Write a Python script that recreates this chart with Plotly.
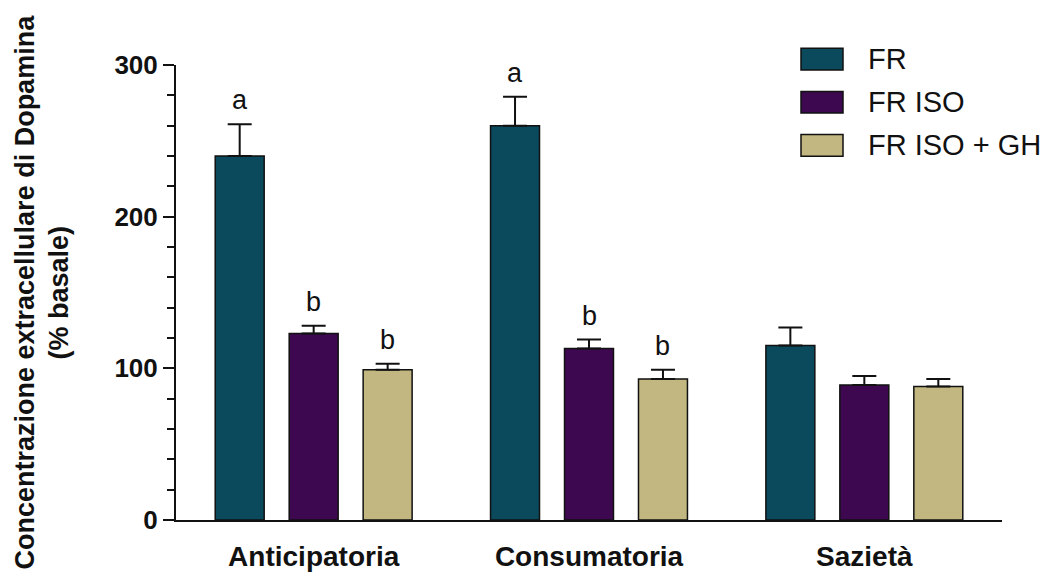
import plotly.graph_objects as go

# Data
categories = ["Anticipatoria", "Consumatoria", "Sazietà"]
series_names = ["FR", "FR ISO", "FR ISO + GH"]
fr_values = [240, 260, 115]
fr_errors = [21, 19, 12]
iso_values = [123, 113, 89]
iso_errors = [5, 6, 6]
gh_values = [99, 93, 88]
gh_errors = [4, 6, 5]
fr_letters = ["a", "a", ""]
iso_letters = ["b", "b", ""]
gh_letters = ["b", "b", ""]
y_ticks = [0, 100, 200, 300]

colors = ["#0b4a5c", "#3d0850", "#c2b781"]
FONT = "Arial, Liberation Sans, sans-serif"

values = [fr_values, iso_values, gh_values]
errors = [fr_errors, iso_errors, gh_errors]
letters = [fr_letters, iso_letters, gh_letters]

BARGAP = 0.194
BARGROUPGAP = 0.338

# Layout geometry (pixels)
W, H = 1057, 584
ML, MR, MT, MB = 176, 55, 65, 55
PW = W - ML - MR
PH = H - MT - MB

fig = go.Figure()
for name, vals, errs, col in zip(series_names, values, errors, colors):
    fig.add_trace(go.Bar(
        x=categories, y=vals, name=name,
        marker=dict(color=col, line=dict(color="#111111", width=1.5)),
        error_y=dict(type="data", array=errs, arrayminus=[0] * len(errs),
                     symmetric=False, color="#111111", thickness=2, width=12),
        showlegend=False,
    ))

# Significance letters above error bars
slot = (1 - BARGAP) / len(series_names)
annotations = []
for j, (vals, errs, lets) in enumerate(zip(values, errors, letters)):
    for i, (v, e, t) in enumerate(zip(vals, errs, lets)):
        if not t:
            continue
        annotations.append(dict(
            x=i + (j - 1) * slot, y=v + e, xref="x", yref="y",
            text=t, showarrow=False, yanchor="bottom", yshift=7,
            font=dict(family=FONT, size=27, color="#111111"),
        ))

# Y-axis title (two rotated lines)
annotations.append(dict(
    x=0, y=0.5, xref="paper", yref="paper", xshift=24 - ML,
    text="<b>Concentrazione extracellulare di Dopamina</b>", textangle=-90,
    showarrow=False, xanchor="center", yanchor="middle",
    font=dict(family=FONT, size=27, color="#111111"),
))
annotations.append(dict(
    x=0, y=0.5, xref="paper", yref="paper", xshift=58 - ML,
    text="<b>(% basale)</b>", textangle=-90,
    showarrow=False, xanchor="center", yanchor="middle",
    font=dict(family=FONT, size=27, color="#111111"),
))

# Custom legend with wide swatches
def px_to_paper(px, py):
    return (px - ML) / PW, (H - MB - py) / PH

shapes = []
for k, (name, col) in enumerate(zip(series_names, colors)):
    cy = 59 + k * 44
    x0, y0 = px_to_paper(801, cy + 11)
    x1, y1 = px_to_paper(843, cy - 11)
    shapes.append(dict(type="rect", xref="paper", yref="paper",
                       x0=x0, y0=y0, x1=x1, y1=y1,
                       fillcolor=col, line=dict(color="#111111", width=1.5)))
    tx, ty = px_to_paper(866, cy)
    annotations.append(dict(
        x=tx, y=ty, xref="paper", yref="paper", text=name, showarrow=False,
        xanchor="left", yanchor="middle",
        font=dict(family=FONT, size=29, color="#111111"),
    ))

fig.update_layout(
    width=W, height=H,
    margin=dict(l=ML, r=MR, t=MT, b=MB, pad=0),
    paper_bgcolor="white", plot_bgcolor="white",
    barmode="group", bargap=BARGAP, bargroupgap=BARGROUPGAP,
    annotations=annotations, shapes=shapes,
    showlegend=False,
)
fig.update_xaxes(
    range=[-0.5, 2.5], showline=True, linecolor="#111111", linewidth=2,
    ticks="", showgrid=False, zeroline=False,
    tickfont=dict(family=FONT, size=28, color="#111111", weight="bold"),
    ticklabelstandoff=10,
)
fig.update_yaxes(
    range=[0, 300], tickvals=y_ticks, showline=True, linecolor="#111111",
    linewidth=2, ticks="outside", ticklen=11, tickwidth=2, tickcolor="#111111",
    showgrid=False, zeroline=False,
    tickfont=dict(family=FONT, size=26, color="#111111", weight="bold"),
    minor=dict(dtick=20, ticks="outside", ticklen=7, tickwidth=2,
               tickcolor="#111111", showgrid=False),
)

fig.write_html("out.html")
